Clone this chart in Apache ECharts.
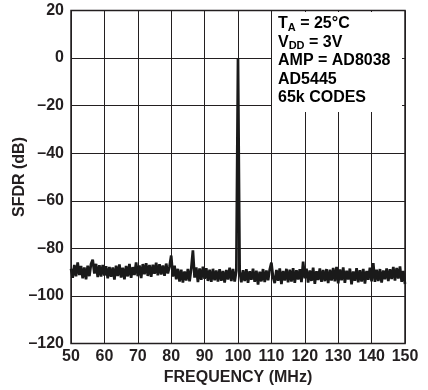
<!DOCTYPE html>
<html>
<head>
<meta charset="utf-8">
<script src="https://cdn.jsdelivr.net/npm/echarts@6/dist/echarts.min.js"></script>
<style>
html,body{margin:0;padding:0;background:#fff;}
#c{width:428px;height:390px;}
</style>
</head>
<body>
<div id="c"></div>
<script>
// Frequency sampling (MHz)
var freqStart = 50;
var freqStep = 0.5;
// SFDR trace values (dB), one per 0.5 MHz from 50 to 150 MHz
var sfdr = [
  -88.6,-92.4,-87.0,-91.8,-85.9,-91.2,-87.4,-92.6,-88.0,-93.0,
  -87.3,-91.7,-86.6,-84.8,-90.6,-86.5,-92.1,-87.1,-91.9,-87.0,
  -91.4,-87.5,-92.6,-87.8,-91.9,-88.0,-93.1,-87.3,-91.6,-86.8,
  -92.3,-88.1,-93.0,-87.4,-91.8,-86.5,-92.4,-87.9,-91.2,-85.9,
  -91.7,-87.2,-92.5,-86.6,-90.9,-86.2,-91.6,-87.0,-92.0,-86.9,
  -90.7,-86.0,-91.3,-86.7,-91.0,-87.2,-91.5,-86.4,-90.6,-87.5,
  -83.0,-91.9,-87.3,-93.0,-88.6,-94.0,-89.0,-94.4,-89.7,-93.5,
  -88.7,-93.9,-88.5,-80.8,-92.3,-88.0,-94.2,-88.4,-93.2,-87.7,
  -92.8,-88.3,-93.7,-89.0,-94.1,-88.6,-93.4,-89.3,-94.0,-88.8,
  -93.6,-89.5,-94.4,-89.1,-93.1,-88.1,-93.8,-88.7,-94.0,-89.4,
  0,-89.7,-94.3,-89.2,-93.7,-88.8,-94.5,-89.6,-93.2,-88.5,
  -94.1,-89.4,-95.2,-89.8,-93.9,-88.7,-94.2,-89.3,-93.4,-88.9,
  -86.0,-92.2,-94.6,-89.1,-93.6,-88.4,-95.0,-89.5,-93.5,-88.6,
  -94.3,-89.0,-94.0,-88.3,-94.5,-89.2,-93.1,-88.8,-94.2,-85.6,
  -92.6,-88.5,-94.4,-89.3,-93.7,-88.1,-94.9,-89.6,-93.3,-88.4,
  -94.1,-89.1,-93.8,-88.7,-94.6,-89.0,-93.5,-88.2,-93.9,-87.8,
  -94.7,-88.9,-93.4,-88.0,-94.5,-89.4,-93.1,-88.5,-95.1,-89.7,
  -93.6,-88.3,-94.3,-89.2,-94.0,-88.6,-94.8,-89.5,-93.2,-88.1,
  -93.9,-86.2,-94.1,-89.0,-93.7,-88.7,-94.4,-89.3,-93.0,-88.4,
  -93.8,-88.8,-92.9,-87.8,-93.5,-88.2,-92.7,-87.6,-94.1,-89.5,
  -95.0
];
var xTicks = [50,60,70,80,90,100,110,120,130,140,150];
var yTicks = [-120,-100,-80,-60,-40,-20,0,20];
var noteLines = ['T_A = 25°C','V_DD = 3V','AMP = AD8038','AD5445','65k CODES'];

var pairs = sfdr.map(function(v,i){ return [freqStart + i*freqStep, v]; });

var FONT = '"Liberation Sans", Arial, Helvetica, sans-serif';
var TXT = '#231f20';

function richLine(s){
  var m = s.match(/^(\w)_(\w+)(.*)$/);
  if (m) return '{n|' + m[1] + '}{s|' + m[2] + '}{n|' + m[3] + '}';
  return '{n|' + s + '}';
}

var chart = echarts.init(document.getElementById('c'), null, {renderer:'canvas'});
chart.setOption({
  animation:false,
  backgroundColor:'#fff',
  grid:{left:71,right:23,top:10.5,bottom:46.5,containLabel:false,outerBoundsMode:'none',
    show:true,borderColor:'#231f20',borderWidth:1.5,backgroundColor:'transparent'},
  xAxis:{
    type:'value',min:xTicks[0],max:xTicks[xTicks.length-1],interval:10,
    name:'FREQUENCY (MHz)',nameLocation:'middle',nameGap:26,nameMoveOverlap:false,
    nameTextStyle:{fontFamily:FONT,fontWeight:'bold',fontSize:16,color:TXT},
    axisLine:{show:false},axisTick:{show:false},
    axisLabel:{fontFamily:FONT,fontWeight:'bold',fontSize:16,color:TXT,margin:5},
    splitLine:{show:true,lineStyle:{color:'#231f20',width:1}}
  },
  yAxis:{
    type:'value',min:yTicks[0],max:yTicks[yTicks.length-1],interval:20,
    name:'SFDR (dB)',nameLocation:'middle',nameGap:43,nameMoveOverlap:false,
    nameTextStyle:{fontFamily:FONT,fontWeight:'bold',fontSize:16,color:TXT},
    axisLine:{show:false},axisTick:{show:false},
    axisLabel:{fontFamily:FONT,fontWeight:'bold',fontSize:16,color:TXT,margin:7,
      formatter:function(v){ return v < 0 ? '\u2013' + Math.abs(v) : String(v); }},
    splitLine:{show:true,lineStyle:{color:'#231f20',width:1}}
  },
  series:[{
    type:'line',data:pairs,showSymbol:false,symbol:'none',
    lineStyle:{color:'#1a1a1a',width:2.7},z:3
  }],
  graphic:[
    {type:'rect',shape:{x:272,y:12,width:130,height:100},style:{fill:'#fff'},z:10},
    {type:'text',left:278,top:16,z:11,style:{
      text:noteLines.map(richLine).join('\n'),
      rich:{
        n:{fontFamily:FONT,fontWeight:'bold',fontSize:16,color:TXT,lineHeight:18.5,verticalAlign:'middle'},
        s:{fontFamily:FONT,fontWeight:'bold',fontSize:11,color:TXT,lineHeight:18.5,verticalAlign:'bottom'}
      }
    }}
  ]
});
</script>
</body>
</html>
